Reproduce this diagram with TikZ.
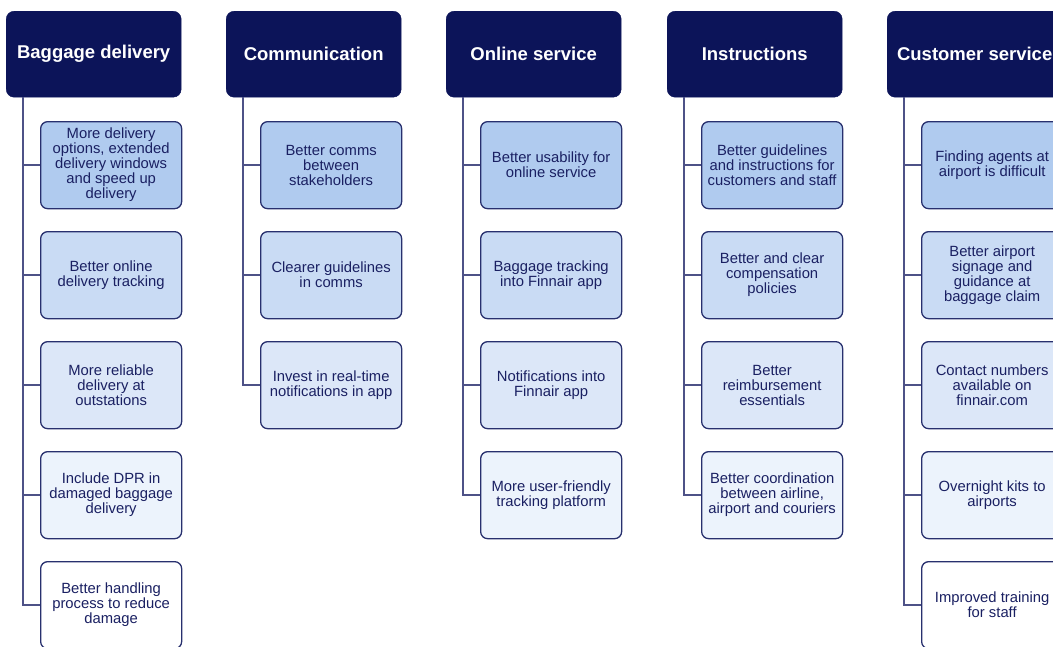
\documentclass[tikz,border=0pt]{standalone}
\usepackage{fontspec}
\setmainfont{Liberation Sans}
\usetikzlibrary{calc}

\definecolor{headnavy}{RGB}{12,20,89}
\definecolor{boxedge}{RGB}{40,48,110}
\definecolor{boxtext}{RGB}{26,32,98}
\definecolor{linkline}{RGB}{78,82,135}
\definecolor{fillA}{RGB}{176,203,239}
\definecolor{fillB}{RGB}{201,219,244}
\definecolor{fillC}{RGB}{220,231,248}
\definecolor{fillD}{RGB}{236,243,252}
\definecolor{fillE}{RGB}{255,255,255}

\tikzset{
  header/.style={rectangle, rounded corners=8pt, fill=headnavy, draw=headnavy,
    minimum width=175pt, minimum height=86pt, anchor=north west, inner sep=0pt,
    text=white, font=\fontsize{18.5}{20}\selectfont\bfseries},
  item/.style={rectangle, rounded corners=7pt, draw=boxedge, line width=1.3pt,
    minimum width=141pt, minimum height=87pt, anchor=north west, inner sep=0pt,
    text=boxtext, align=center, font=\fontsize{14.8}{15}\selectfont},
  rowA/.style={item, fill=fillA},
  rowB/.style={item, fill=fillB},
  rowC/.style={item, fill=fillC},
  rowD/.style={item, fill=fillD},
  rowE/.style={item, fill=fillE},
  link/.style={draw=linkline, line width=1.4pt},
}

\begin{document}
\begin{tikzpicture}[x=1pt, y=-1pt]
\useasboundingbox (0,0) rectangle (1053,646);
\clip (0,0) rectangle (1053,646);

% ---- Baggage delivery ----
\node[header] (h1) at (6,11) {Baggage delivery};
\node[rowA] (c11) at (40,121) {More delivery\\options, extended\\delivery windows\\and speed up\\delivery};
\node[rowB] (c12) at (40,231) {Better online\\delivery tracking};
\node[rowC] (c13) at (40,341) {More reliable\\delivery at\\outstations};
\node[rowD] (c14) at (40,451) {Include DPR in\\damaged baggage\\delivery};
\node[rowE] (c15) at (40,561) {Better handling\\process to reduce\\damage};

% ---- Communication ----
\node[header] (h2) at (226,11) {Communication};
\node[rowA] (c21) at (260,121) {Better comms\\between\\stakeholders};
\node[rowB] (c22) at (260,231) {Clearer guidelines\\in comms};
\node[rowC] (c23) at (260,341) {Invest in real-time\\notifications in app};

% ---- Online service ----
\node[header] (h3) at (446,11) {Online service};
\node[rowA] (c31) at (480,121) {Better usability for\\online service};
\node[rowB] (c32) at (480,231) {Baggage tracking\\into Finnair app};
\node[rowC] (c33) at (480,341) {Notifications into\\Finnair app};
\node[rowD] (c34) at (480,451) {More user-friendly\\tracking platform};

% ---- Instructions ----
\node[header] (h4) at (667,11) {Instructions};
\node[rowA] (c41) at (701,121) {Better guidelines\\and instructions for\\customers and staff};
\node[rowB] (c42) at (701,231) {Better and clear\\compensation\\policies};
\node[rowC] (c43) at (701,341) {Better\\reimbursement\\essentials};
\node[rowD] (c44) at (701,451) {Better coordination\\between airline,\\airport and couriers};

% ---- Customer service ----
\node[header] (h5) at (887,11) {Customer service};
\node[rowA] (c51) at (921,121) {Finding agents at\\airport is difficult};
\node[rowB] (c52) at (921,231) {Better airport\\signage and\\guidance at\\baggage claim};
\node[rowC] (c53) at (921,341) {Contact numbers\\available on\\finnair.com};
\node[rowD] (c54) at (921,451) {Overnight kits to\\airports};
\node[rowE] (c55) at (921,561) {Improved training\\for staff};

% ---- trunk lines from each header, with a branch to every item ----
\foreach \h in {1,...,5}
  \coordinate (t\h) at ($(h\h.south west)+(17,0)$);

\draw[link] (t1) |- (c15.west);
\foreach \r in {1,...,4} \draw[link] (t1 |- c1\r.west) -- (c1\r.west);

\draw[link] (t2) |- (c23.west);
\foreach \r in {1,2} \draw[link] (t2 |- c2\r.west) -- (c2\r.west);

\draw[link] (t3) |- (c34.west);
\foreach \r in {1,...,3} \draw[link] (t3 |- c3\r.west) -- (c3\r.west);

\draw[link] (t4) |- (c44.west);
\foreach \r in {1,...,3} \draw[link] (t4 |- c4\r.west) -- (c4\r.west);

\draw[link] (t5) |- (c55.west);
\foreach \r in {1,...,4} \draw[link] (t5 |- c5\r.west) -- (c5\r.west);
\end{tikzpicture}
\end{document}
